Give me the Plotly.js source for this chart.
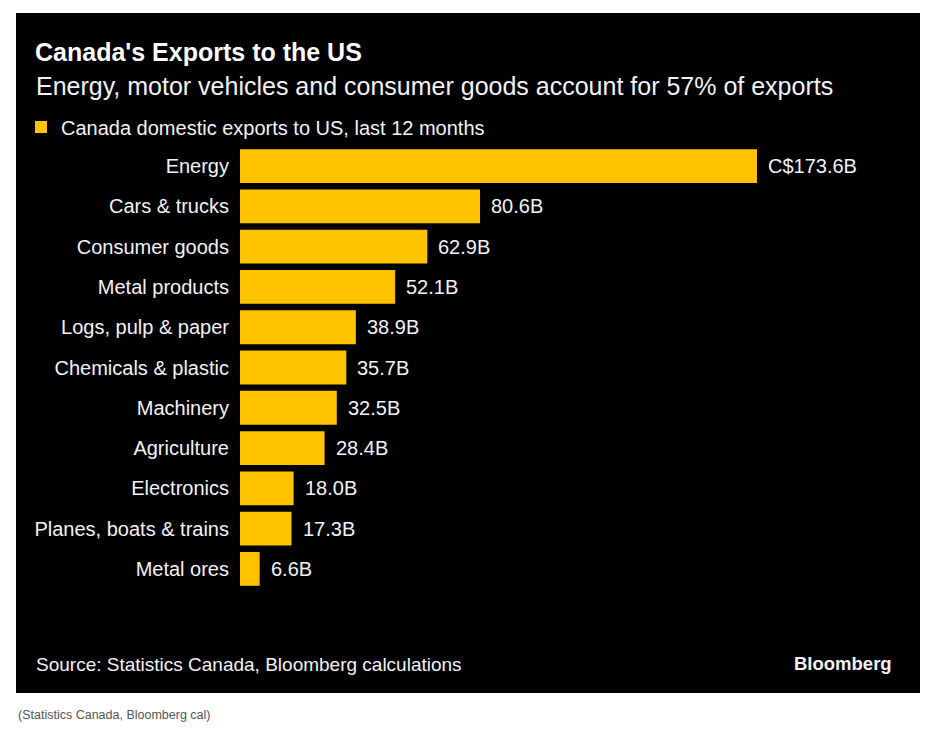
<!DOCTYPE html>
<html>
<head>
<meta charset="utf-8">
<script src="https://cdn.plot.ly/plotly-3.0.1.min.js"></script>
<style>html,body{margin:0;padding:0;background:#fff;}#chart{width:932px;height:729px;}</style>
</head>
<body>
<div id="chart"></div>
<script>
const categories = ["Energy","Cars & trucks","Consumer goods","Metal products","Logs, pulp & paper","Chemicals & plastic","Machinery","Agriculture","Electronics","Planes, boats & trains","Metal ores"];
const exportsBn = [173.6, 80.6, 62.9, 52.1, 38.9, 35.7, 32.5, 28.4, 18.0, 17.3, 6.6];
const valueLabels = ["C$173.6B","80.6B","62.9B","52.1B","38.9B","35.7B","32.5B","28.4B","18.0B","17.3B","6.6B"];
const seriesName = "Canada domestic exports to US, last 12 months";

const W = 932, H = 729;
const M = {l: 240, r: 12, t: 146, b: 140};
const pw = W - M.l - M.r, ph = H - M.t - M.b;
const px2x = p => (p - M.l) / pw;
const py2y = p => (H - M.b - p) / ph;
const FONT = "Liberation Sans, Arial, sans-serif";

const trace = {
  type: "bar",
  orientation: "h",
  x: exportsBn,
  y: categories,
  name: seriesName,
  marker: {color: "#FFC300"},
  hoverinfo: "x+y",
  showlegend: true
};

const annotations = exportsBn.map((v, i) => ({
  x: v, y: categories[i], xref: "x", yref: "y",
  text: valueLabels[i], showarrow: false,
  xanchor: "left", yanchor: "middle", xshift: 9,
  font: {family: FONT, size: 20, color: "#f2f2f2"}
}));

annotations.push({
  xref: "paper", yref: "paper", x: px2x(34), y: py2y(664),
  xanchor: "left", yanchor: "middle", showarrow: false,
  text: "Source: Statistics Canada, Bloomberg calculations",
  font: {family: FONT, size: 19, color: "#f2f2f2"}
});
annotations.push({
  xref: "paper", yref: "paper", x: px2x(894), y: py2y(663),
  xanchor: "right", yanchor: "middle", showarrow: false,
  text: "<b>Bloomberg</b>",
  font: {family: FONT, size: 18.5, color: "#f2f2f2"}
});
annotations.push({
  xref: "paper", yref: "paper", x: px2x(16), y: py2y(715),
  xanchor: "left", yanchor: "middle", showarrow: false,
  text: "(Statistics Canada, Bloomberg cal)",
  font: {family: FONT, size: 12.5, color: "#555"}
});
annotations.push({
  xref: "paper", yref: "paper", x: px2x(34), y: py2y(86),
  xanchor: "left", yanchor: "middle", showarrow: false,
  text: "Energy, motor vehicles and consumer goods account for 57% of exports",
  font: {family: FONT, size: 25, color: "#f2f2f2"}
});

const layout = {
  width: W, height: H,
  margin: M,
  paper_bgcolor: "#ffffff",
  plot_bgcolor: "#000000",
  font: {family: FONT, color: "#f2f2f2"},
  title: {
    text: "<b>Canada's Exports to the US</b>",
    xref: "container", yref: "container",
    x: 35 / W, xanchor: "left",
    y: 1 - 52 / H, yanchor: "middle",
    font: {family: FONT, size: 25, color: "#ffffff"}
  },
  bargap: 0.16,
  xaxis: {visible: false, range: [0, pw / 2.978], fixedrange: true},
  yaxis: {
    autorange: "reversed", showgrid: false, zeroline: false, showline: false,
    ticks: "", ticklabelstandoff: 10,
    tickfont: {family: FONT, size: 20, color: "#f2f2f2"},
    fixedrange: true
  },
  legend: {
    orientation: "h", x: px2x(21), xanchor: "left", y: py2y(127), yanchor: "middle",
    bgcolor: "rgba(0,0,0,0)",
    font: {family: FONT, size: 20, color: "#f2f2f2"}
  },
  shapes: [{
    type: "rect", xref: "paper", yref: "paper", layer: "below",
    x0: px2x(16), x1: px2x(920), y0: py2y(693), y1: py2y(13),
    fillcolor: "#000000", line: {width: 0}
  }],
  annotations: annotations
};

Plotly.newPlot("chart", [trace], layout, {displayModeBar: false, staticPlot: true});
</script>
</body>
</html>
